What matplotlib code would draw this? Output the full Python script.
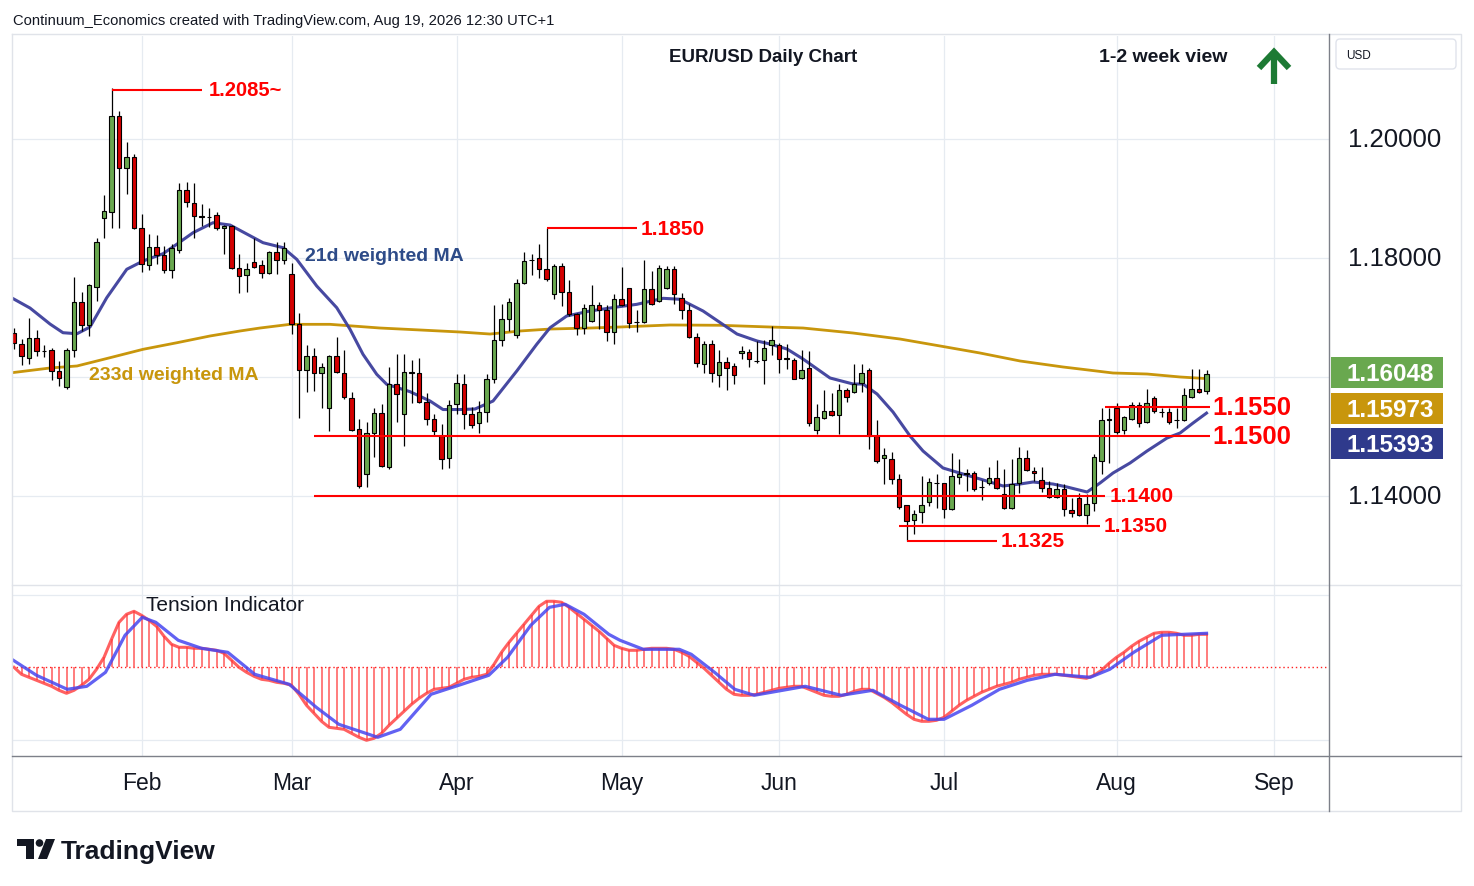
import numpy as np
import pandas as pd
import matplotlib
matplotlib.use("Agg")
import matplotlib.pyplot as plt
from matplotlib.patches import Rectangle, FancyBboxPatch, Circle, Polygon
from matplotlib.transforms import blended_transform_factory

plt.rcParams['font.family'] = ['Liberation Sans', 'DejaVu Sans']

# EUR/USD daily candles, 8 Jan 2026 .. 19 Aug 2026
opens = [
    1.16744, 1.16559, 1.16324, 1.16660, 1.16445, 1.16448, 1.16100, 1.15832, 1.16448, 1.17260,
    1.16874, 1.17517, 1.18677, 1.18778, 1.20386, 1.19517, 1.19697, 1.18509, 1.17877, 1.18185,
    1.18050, 1.17793, 1.18129, 1.19137, 1.18929, 1.18700, 1.18689, 1.18717, 1.18509, 1.18537,
    1.17827, 1.17714, 1.17937, 1.17877, 1.17743, 1.18100, 1.17961, 1.17726, 1.16895, 1.16112,
    1.16352, 1.16072, 1.15474, 1.16352, 1.16072, 1.15652, 1.15121, 1.14364, 1.15053, 1.15390,
    1.14492, 1.15877, 1.15373, 1.16089, 1.16062, 1.15584, 1.15289, 1.15008, 1.14633, 1.15541,
    1.15877, 1.15373, 1.15232, 1.15416, 1.15961, 1.16616, 1.16969, 1.16701, 1.17584, 1.17966,
    1.18005, 1.17810, 1.17390, 1.17865, 1.17428, 1.17053, 1.16828, 1.16941, 1.17205, 1.17121,
    1.16756, 1.17306, 1.17491, 1.16924, 1.16924, 1.17474, 1.17277, 1.17491, 1.17810, 1.17332,
    1.17121, 1.16677, 1.16213, 1.16549, 1.16028, 1.16252, 1.16185, 1.16398, 1.16420, 1.16269,
    1.16280, 1.16532, 1.16532, 1.16314, 1.16280, 1.15978, 1.16146, 1.15104, 1.15316, 1.15428,
    1.15356, 1.15776, 1.15748, 1.15894, 1.16112, 1.15008, 1.14633, 1.14616, 1.14280, 1.13843,
    1.13596, 1.13736, 1.13904, 1.14218, 1.14213, 1.13776, 1.14324, 1.14364, 1.14391, 1.14151,
    1.14213, 1.14297, 1.14028, 1.13793, 1.14213, 1.14633, 1.14420, 1.14268, 1.14129, 1.13983,
    1.14112, 1.13759, 1.13961, 1.13680, 1.13887, 1.14588, 1.15289, 1.15484, 1.15104, 1.15289,
    1.15524, 1.15243, 1.15642, 1.15416, 1.15411, 1.15277, 1.15272, 1.15663, 1.15793, 1.15765,
]
highs = [
    1.16828, 1.16633, 1.16986, 1.16785, 1.16537, 1.16492, 1.16269, 1.16492, 1.17680, 1.17433,
    1.17557, 1.18331, 1.19058, 1.20850, 1.20470, 1.19949, 1.19753, 1.18744, 1.18398, 1.18386,
    1.18201, 1.18240, 1.19265, 1.19277, 1.19255, 1.18912, 1.18835, 1.18778, 1.18550, 1.18550,
    1.18062, 1.17921, 1.18331, 1.17961, 1.18117, 1.18274, 1.18274, 1.17921, 1.17070, 1.16537,
    1.16492, 1.16240, 1.16369, 1.16672, 1.16453, 1.15753, 1.15289, 1.15248, 1.15474, 1.15541,
    1.16168, 1.16391, 1.16391, 1.16280, 1.16324, 1.15726, 1.15373, 1.15215, 1.15613, 1.16045,
    1.16045, 1.15495, 1.15596, 1.16055, 1.17210, 1.17221, 1.17332, 1.17642, 1.18100, 1.18072,
    1.18240, 1.18500, 1.17904, 1.17921, 1.17625, 1.17080, 1.17232, 1.17546, 1.17265, 1.17210,
    1.17400, 1.17848, 1.17500, 1.17121, 1.17961, 1.17781, 1.17882, 1.17865, 1.17865, 1.17406,
    1.17221, 1.16744, 1.16605, 1.16616, 1.16448, 1.16341, 1.16240, 1.16521, 1.16465, 1.16605,
    1.16616, 1.16857, 1.16576, 1.16559, 1.16324, 1.16448, 1.16437, 1.15541, 1.15776, 1.15726,
    1.15887, 1.15820, 1.16213, 1.16213, 1.16156, 1.15272, 1.14801, 1.14744, 1.14374, 1.13850,
    1.13759, 1.14336, 1.14297, 1.14364, 1.14223, 1.14727, 1.14616, 1.14448, 1.14420, 1.14263,
    1.14487, 1.14600, 1.14448, 1.14616, 1.14823, 1.14768, 1.14492, 1.14492, 1.14246, 1.14223,
    1.14196, 1.13971, 1.14055, 1.14028, 1.14700, 1.15474, 1.15474, 1.15568, 1.15344, 1.15584,
    1.15584, 1.15803, 1.15681, 1.15474, 1.15474, 1.15474, 1.15810, 1.16129, 1.16129, 1.16112,
]
lows = [
    1.16465, 1.16201, 1.16223, 1.16352, 1.16341, 1.15944, 1.15848, 1.15793, 1.16336, 1.16773,
    1.16689, 1.17277, 1.18341, 1.18509, 1.18509, 1.19070, 1.18480, 1.17769, 1.17798, 1.17904,
    1.17753, 1.17658, 1.18089, 1.18857, 1.18341, 1.18537, 1.18521, 1.18465, 1.18062, 1.17815,
    1.17416, 1.17433, 1.17837, 1.17669, 1.17726, 1.17736, 1.17894, 1.16727, 1.15316, 1.15753,
    1.15765, 1.15474, 1.15092, 1.16072, 1.15625, 1.15090, 1.14129, 1.14156, 1.14660, 1.14492,
    1.14448, 1.15248, 1.14840, 1.15568, 1.15558, 1.15193, 1.15025, 1.14448, 1.14475, 1.15373,
    1.15121, 1.15137, 1.15063, 1.15248, 1.15899, 1.16521, 1.16773, 1.16650, 1.17557, 1.17714,
    1.17669, 1.17613, 1.17306, 1.17193, 1.17025, 1.16701, 1.16727, 1.16929, 1.16811, 1.16605,
    1.16559, 1.17193, 1.16828, 1.16761, 1.16912, 1.17210, 1.17265, 1.17474, 1.17221, 1.16969,
    1.16660, 1.16168, 1.16072, 1.15921, 1.15832, 1.15776, 1.15887, 1.16307, 1.16168, 1.16240,
    1.15877, 1.16364, 1.16072, 1.16139, 1.15961, 1.15961, 1.15176, 1.15036, 1.15289, 1.15339,
    1.15036, 1.15584, 1.15736, 1.15753, 1.14785, 1.14554, 1.14196, 1.14196, 1.13776, 1.13250,
    1.13356, 1.13551, 1.13832, 1.13803, 1.13625, 1.13770, 1.14206, 1.14084, 1.14084, 1.13927,
    1.14184, 1.14122, 1.13785, 1.13785, 1.14055, 1.14420, 1.14246, 1.14072, 1.13971, 1.13971,
    1.13663, 1.13651, 1.13663, 1.13534, 1.13748, 1.14374, 1.14559, 1.15036, 1.15036, 1.15272,
    1.15161, 1.15232, 1.15400, 1.15327, 1.15205, 1.15137, 1.15260, 1.15652, 1.15736, 1.15709,
]
closes = [
    1.16576, 1.16352, 1.16660, 1.16437, 1.16437, 1.16100, 1.15978, 1.16448, 1.17260, 1.16874,
    1.17546, 1.18274, 1.18790, 1.20386, 1.19517, 1.19697, 1.18499, 1.17894, 1.18185, 1.18050,
    1.17793, 1.18163, 1.19137, 1.18941, 1.18706, 1.18689, 1.18684, 1.18509, 1.18537, 1.17837,
    1.17697, 1.17810, 1.17848, 1.17743, 1.18100, 1.17961, 1.18173, 1.16895, 1.16112, 1.16352,
    1.16072, 1.16168, 1.16352, 1.16084, 1.15663, 1.15104, 1.14168, 1.15053, 1.15390, 1.14504,
    1.15877, 1.15709, 1.16089, 1.16062, 1.15579, 1.15289, 1.15092, 1.14616, 1.15524, 1.15904,
    1.15373, 1.15193, 1.15416, 1.15961, 1.16616, 1.16969, 1.17260, 1.17584, 1.17949, 1.17961,
    1.17810, 1.17642, 1.17865, 1.17428, 1.17053, 1.16828, 1.17164, 1.17205, 1.17121, 1.16756,
    1.17306, 1.17205, 1.16902, 1.16919, 1.17474, 1.17221, 1.17837, 1.17810, 1.17390, 1.17121,
    1.16677, 1.16240, 1.16549, 1.16062, 1.16252, 1.16156, 1.16028, 1.16437, 1.16307, 1.16265,
    1.16482, 1.16616, 1.16307, 1.16310, 1.15971, 1.16117, 1.15232, 1.15327, 1.15428, 1.15356,
    1.15776, 1.15663, 1.15887, 1.16072, 1.15008, 1.14596, 1.14684, 1.14280, 1.13815, 1.13579,
    1.13692, 1.13848, 1.14235, 1.14215, 1.13776, 1.14336, 1.14364, 1.14391, 1.14112, 1.14148,
    1.14297, 1.14139, 1.13793, 1.14206, 1.14633, 1.14436, 1.14381, 1.14129, 1.13983, 1.14112,
    1.13776, 1.13709, 1.13680, 1.13860, 1.14660, 1.15272, 1.15285, 1.15075, 1.15327, 1.15524,
    1.15232, 1.15568, 1.15428, 1.15413, 1.15243, 1.15274, 1.15692, 1.15793, 1.15753, 1.16048,
]

# moving averages read at points along the curves (bar index, price)
ma21_x = [-0.27, 2.13, 4.8, 6.53, 8.4, 10.13, 12.36, 15.03, 17.2, 19.87, 21.69, 23.87, 26.53,
          28.8, 33.2, 35.87, 37.69, 40.36, 43.03, 44.8, 46.53, 48.36, 49.69, 52.8, 55.47, 57.2,
          59.47, 61.47, 63.87, 67.03, 69.69, 71.47, 73.69, 76.8, 80.36, 83.03, 86.57, 88.8,
          91.87, 96.4, 99.07, 100.8, 103.07, 105.2, 108.8, 111.87, 113.2, 115.07, 117.2, 119.47,
          121.2, 123.87, 126.53, 128.8, 131.87, 134.13, 135.87, 138.53, 140.4, 143.07, 144.8,
          146.53, 148.8, 151.07, 153.73, 155.47, 157.2, 159.0]
ma21_y = [1.17327, 1.17159, 1.16890, 1.16744, 1.16727, 1.16840, 1.17332, 1.17810, 1.17949,
          1.18072, 1.18230, 1.18425, 1.18593, 1.18554, 1.18257, 1.18173, 1.17978, 1.17529,
          1.17164, 1.16801, 1.16381, 1.16045, 1.15877, 1.15753, 1.15596, 1.15453, 1.15453,
          1.15462, 1.15596, 1.16100, 1.16549, 1.16828, 1.17025, 1.17109, 1.17176, 1.17221,
          1.17322, 1.17306, 1.17109, 1.16722, 1.16605, 1.16554, 1.16470, 1.16302, 1.15983,
          1.15882, 1.15882, 1.15714, 1.15411, 1.15008, 1.14756, 1.14470, 1.14369, 1.14285,
          1.14168, 1.14201, 1.14235, 1.14201, 1.14151, 1.14067, 1.14218, 1.14386, 1.14554,
          1.14756, 1.14974, 1.15058, 1.15226, 1.15393]
ma233_x = [-0.27, 4.8, 8.4, 12.8, 17.2, 21.73, 26.13, 30.13, 32.8, 36.8, 42.13, 48.8, 54.13,
           59.47, 63.47, 67.47, 71.47, 76.8, 80.8, 87.47, 94.13, 100.8, 105.2, 111.87, 118.13,
           123.47, 128.8, 134.13, 139.87, 142.13, 146.53, 151.07, 155.47, 159.0]
ma233_y = [1.16072, 1.16151, 1.16185, 1.16324, 1.16465, 1.16576, 1.16689, 1.16773, 1.16823,
           1.16885, 1.16885, 1.16823, 1.16790, 1.16756, 1.16722, 1.16773, 1.16806, 1.16823,
           1.16840, 1.16874, 1.16869, 1.16840, 1.16823, 1.16739, 1.16638, 1.16521, 1.16403,
           1.16269, 1.16168, 1.16134, 1.16067, 1.16050, 1.16000, 1.15973]

# tension indicator (one value per bar) and its signal line
tension = [
    0, -7, -10, -13, -16, -19, -23, -26, -23, -18,
    -12, -2, 10, 28, 45, 53, 56, 52, 47, 41,
    31, 23, 20, 20, 19, 19, 18, 17, 14, 7,
    0, -5, -9, -12, -13, -15, -16, -18, -27, -38,
    -46, -54, -60, -61, -62, -66, -70, -73, -71, -66,
    -58, -51, -44, -37, -31, -26, -22, -21, -20, -16,
    -12, -10, -9, -7, 3, 15, 25, 34, 43, 52,
    61, 66, 66, 65, 60, 54, 48, 42, 36, 29,
    22, 19, 17, 17, 18, 19, 19, 19, 18, 15,
    11, 5, -1, -8, -15, -22, -27, -28, -28, -27,
    -25, -23, -21, -20, -19, -19, -22, -25, -28, -29,
    -29, -27, -24, -22, -22, -26, -30, -35, -41, -47,
    -52, -54, -54, -53, -50, -44, -38, -33, -29, -25,
    -22, -19, -17, -15, -12, -10, -8, -7, -7, -7,
    -8, -9, -10, -11, -8, -3, 4, 10, 15, 21,
    26, 30, 34, 35, 35, 34, 32, 32, 33, 33,
]
signal_x = [-0.5, 3.0, 7.1, 9.7, 12.2, 14.8, 17.1, 18.9, 21.9, 25.0, 28.5, 32.1, 36.7, 40.3,
            43.3, 48.5, 51.5, 55.6, 59.7, 63.3, 65.8, 68.9, 71.4, 73.5, 76.0, 79.3, 80.8,
            83.9, 88.7, 90.3, 93.4, 96.1, 98.7, 105.5, 110.3, 114.5, 118.2, 121.9, 124.0,
            127.7, 131.4, 135.1, 138.8, 143.5, 146.1, 149.3, 153.0, 159.0]
signal_y = [9, -8, -22, -19, -5, 32, 50, 45, 27, 19, 15, -7, -17, -40, -57, -70, -62, -27,
            -17, -8, 10, 42, 60, 63, 53, 33, 27, 18, 18, 13, -5, -22, -28, -19, -28, -23,
            -38, -52, -52, -38, -22, -13, -7, -10, -2, 15, 32, 34]

price_ticks = [1.14, 1.18, 1.20]
grid_prices = [1.14, 1.16, 1.18, 1.20]

levels = [1.2083, 1.1850, 1.1550, 1.1500, 1.1400, 1.1350, 1.1325]
level_text = ['1.2085~', '1.1850', '1.1550', '1.1500', '1.1400', '1.1350', '1.1325']
level_from = [13, 71, 145.5, 40, 40, 118, 119]
level_to = [25, 83, 159.5, 159.5, 145.5, 144.8, 131]
level_lbl_x = [26, 83.6, 159.8, 159.8, 146.1, 145.3, 131.5]
level_size = [14.5, 15, 18.5, 18.5, 15, 15, 15]

ext = pd.bdate_range('2026-01-08', '2026-09-30')
month_idx = [i for i in range(1, len(ext)) if ext[i].month != ext[i - 1].month]
month_lbl = [ext[i].strftime('%b') for i in month_idx]

W, H = 1474, 887
fig = plt.figure(figsize=(W / 100, H / 100), dpi=100)
fig.patch.set_facecolor('white')


def fx(px):
    return px / W


def fy(py):
    return 1 - py / H


ax = fig.add_axes([fx(12), fy(587), fx(1329) - fx(12), fy(37) - fy(587)])
ax2 = fig.add_axes([fx(12), fy(757), fx(1329) - fx(12), fy(586) - fy(757)])
for a in (ax, ax2):
    a.set_xlim(-0.27, 175.33)
    a.set_xticks([])
    a.set_yticks([])
    for s in a.spines.values():
        s.set_visible(False)
    for m in month_idx:
        a.axvline(m, color='#e6ebf1', lw=0.9, zorder=0)
ax.set_ylim(1.12487, 1.21731)
ax2.set_ylim(-88.7, 82.3)

grid_c = '#e6ebf1'
for p in grid_prices:
    ax.axhline(p, color=grid_c, lw=0.9, zorder=0)

# candles
x = np.arange(len(closes))
o, h, l, c = (np.array(v) for v in (opens, highs, lows, closes))
cols = np.where(c >= o, '#69a84f', '#d40000')
ax.vlines(x, l, h, color='black', lw=0.9, zorder=3)
ax.bar(x, np.maximum(np.abs(c - o), 0.00004), bottom=np.minimum(o, c), width=0.64,
       color=cols, edgecolor='black', linewidth=0.8, zorder=4)

ax.plot(ma233_x, ma233_y, color='#c8960c', lw=2.0, zorder=2)
ax.plot(ma21_x, ma21_y, color='#3d3f9c', lw=2.2, zorder=2, alpha=0.95)
ax.text(38.8, 1.1805, '21d weighted MA', color='#2d4b88', fontsize=14, fontweight='bold',
        va='center', ha='left', zorder=6)
ax.text(10.0, 1.16050, '233d weighted MA', color='#c8960c', fontsize=14, fontweight='bold',
        va='center', ha='left', zorder=6)

for lv, t, a0, a1, lx, fs in zip(levels, level_text, level_from, level_to, level_lbl_x, level_size):
    ax.hlines(lv, a0, a1, color='#ff0000', lw=1.5, zorder=5)
    ax.text(lx, lv, t, color='#ff0000', fontsize=fs, fontweight='bold', va='center',
            ha='left', zorder=6, clip_on=False)

yt = ax.get_yaxis_transform()
for p in price_ticks:
    ax.text((1348 - 12) / 1317, p, f'{p:.5f}', transform=yt, fontsize=18.5,
            color='#131722', va='center', ha='left', clip_on=False)

# tension indicator
ax2.axhline(72.3, color=grid_c, lw=0.9, zorder=0)
ax2.axhline(-72.4, color=grid_c, lw=0.9, zorder=0)
ax2.axhline(0, color='#ff2020', lw=1.0, ls=(0, (1, 2)), zorder=1)
ax2.vlines(x, 0, tension, color='#ff3030', lw=1.1, alpha=0.8, zorder=2)
ax2.plot(x, tension, color='#ff3a3a', lw=2.2, alpha=0.8, zorder=3)
ax2.plot(signal_x, signal_y, color='#4646f0', lw=2.3, alpha=0.85, zorder=4)
xt = blended_transform_factory(ax2.transData, ax2.transAxes)
for m, lb in zip(month_idx, month_lbl):
    ax2.text(m, -0.155, lb, transform=xt, ha='center', va='center', fontsize=16.5,
             color='#131722', clip_on=False)

# overlay in pixel coordinates for frame, tags and headings
ov = fig.add_axes([0, 0, 1, 1], zorder=10)
ov.set_xlim(0, W)
ov.set_ylim(H, 0)
ov.axis('off')
fc = '#e0e3e9'
dc = '#7d8089'
ov.plot([12, 1461, 1461, 12, 12], [35, 35, 812, 812, 35], color=fc, lw=1)
ov.plot([12, 1461], [585.5, 585.5], color=fc, lw=1)
ov.plot([1329, 1329], [35, 812], color=dc, lw=1)
ov.plot([12, 1461], [757, 757], color=dc, lw=1)

ov.text(13, 21, 'Continuum_Economics created with TradingView.com, Aug 19, 2026 12:30 UTC+1',
        fontsize=10.6, color='#131722', va='center', ha='left')
ov.text(763, 57, 'EUR/USD Daily Chart', fontsize=13.5, fontweight='bold', color='#131722',
        va='center', ha='center')
ov.text(1163, 57, '1-2 week view', fontsize=14, fontweight='bold', color='#131722',
        va='center', ha='center')
ov.plot([1274, 1274], [85, 54], color='#1d7a34', lw=4.5, solid_capstyle='butt')
ov.plot([1259, 1274, 1289], [69, 53, 69], color='#1d7a34', lw=4.5,
        solid_joinstyle='miter', solid_capstyle='butt')
ov.text(146, 606, 'Tension Indicator', fontsize=15, color='#131722', va='center', ha='left')

ov.add_patch(FancyBboxPatch((1336, 40), 120, 30, boxstyle='round,pad=0,rounding_size=4',
                            fc='white', ec='#e0e3eb', lw=1))
ov.text(1346, 56, 'USD', fontsize=8.5, color='#131722', va='center', ha='left')

tags = [(closes[-1], '#69a84f', 373.5), (ma233_y[-1], '#c8960c', 409), (ma21_y[-1], '#2f3a8c', 444.5)]
for val, col, yc in tags:
    ov.add_patch(Rectangle((1331, yc - 15.5), 112, 31, color=col, lw=0))
    ov.text(1347, yc + 1.5, f'{val:.5f}', fontsize=17.5, fontweight='bold', color='white',
            va='center', ha='left')

# TradingView mark
ov.add_patch(Polygon([(17, 840), (34, 840), (34, 860), (26, 860), (26, 847), (17, 847)],
                     color='#131722', lw=0))
ov.add_patch(Circle((39.5, 844), 3.8, color='#131722', lw=0))
ov.add_patch(Polygon([(46, 840), (55, 840), (47, 860), (38, 860)], color='#131722', lw=0))
ov.text(61, 852, 'TradingView', fontsize=19, fontweight='bold', color='#131722',
        va='center', ha='left')

fig.savefig('out.png', dpi=100)
